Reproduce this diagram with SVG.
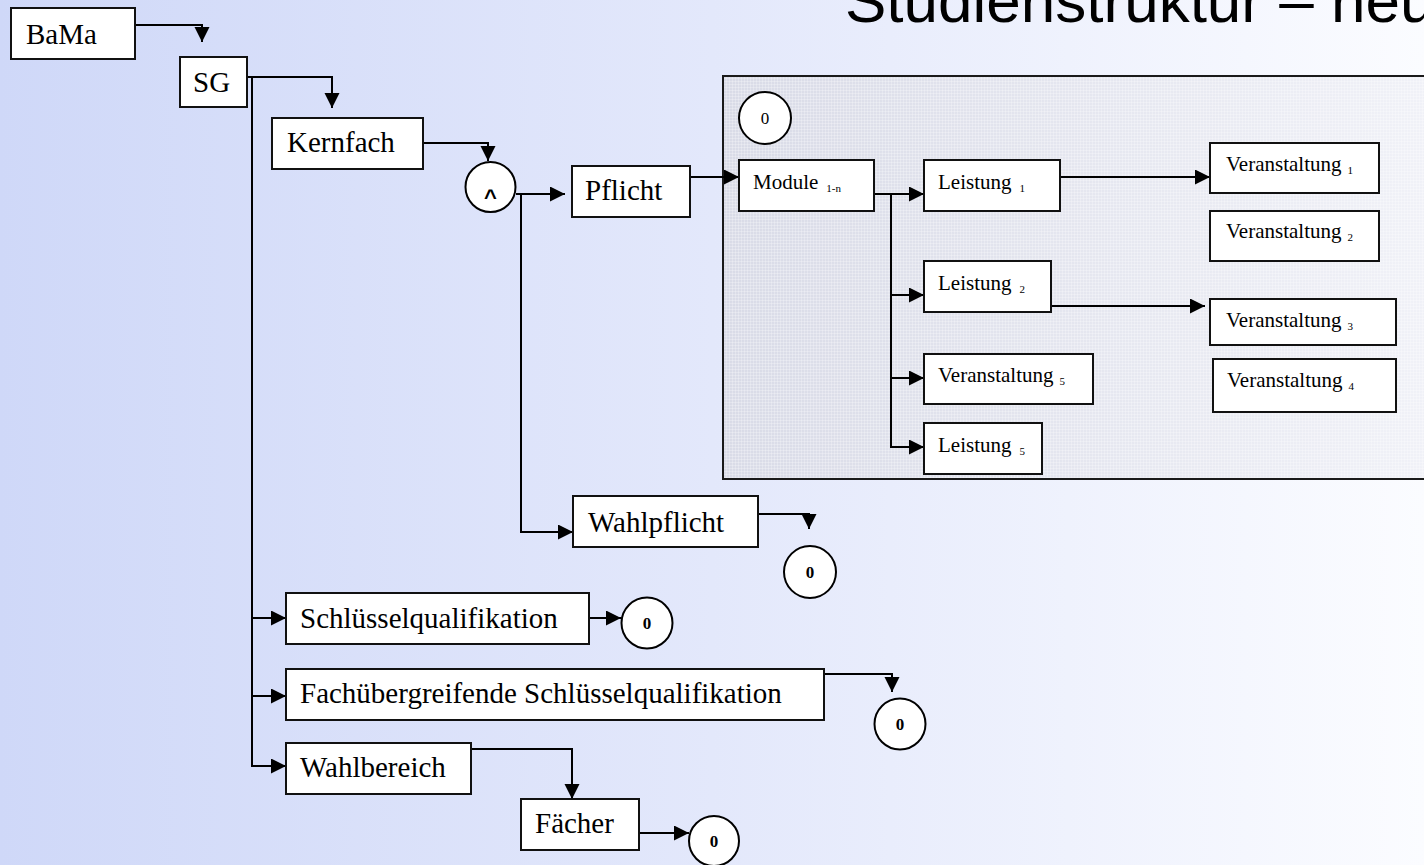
<svg xmlns="http://www.w3.org/2000/svg" width="1424" height="865" viewBox="0 0 1424 865">
<defs>
<linearGradient id="bg" x1="0" y1="0" x2="1" y2="0">
<stop offset="0" stop-color="#cfd8f8"/>
<stop offset="0.5" stop-color="#e3e8fb"/>
<stop offset="1" stop-color="#fbfcff"/>
</linearGradient>
<linearGradient id="panelg" x1="0" y1="0" x2="1" y2="0">
<stop offset="0" stop-color="#d9dbe7"/>
<stop offset="1" stop-color="#f1f2f8"/>
</linearGradient>
<pattern id="grid" width="3" height="3" patternUnits="userSpaceOnUse">
<rect x="0" y="0" width="3" height="1" fill="#ffffff" fill-opacity="0.25"/>
<rect x="0" y="0" width="1" height="3" fill="#ffffff" fill-opacity="0.25"/>
</pattern>
<marker id="ah" markerUnits="userSpaceOnUse" markerWidth="16" markerHeight="16" refX="15" refY="7.5" orient="auto">
<path d="M0,0 L15,7.5 L0,15 Z" fill="#000"/>
</marker>
</defs>
<style>
.box{fill:#fff;stroke:#111;stroke-width:2}
.circ{fill:#fff;stroke:#000;stroke-width:2}
.conn{fill:none;stroke:#000;stroke-width:2;marker-end:url(#ah)}
.line{fill:none;stroke:#000;stroke-width:2}
.big{font-family:"Liberation Serif","Times New Roman",serif;font-size:29px;fill:#000}
.small{font-family:"Liberation Serif","Times New Roman",serif;font-size:21px;fill:#000}
.sub{font-size:11px}
.zero{font-family:"Liberation Serif","Times New Roman",serif;font-size:17px;font-weight:bold;text-anchor:middle;fill:#000}
.title{font-family:"Liberation Sans",Arial,sans-serif;font-size:62px;fill:#000}
</style>
<rect x="0" y="0" width="1424" height="865" fill="url(#bg)"/>
<text class="title" x="845" y="22">Studienstruktur – neu</text>

<g id="panel">
<rect x="723" y="76" width="720" height="403" fill="url(#panelg)"/>
<rect x="723" y="76" width="720" height="403" fill="url(#grid)"/>
<rect x="723" y="76" width="720" height="403" fill="none" stroke="#1a1a1a" stroke-width="2"/>
</g>

<g id="connectors">
<polyline class="conn" points="135,25 202,25 202,42"/>
<polyline class="conn" points="247,77 332,77 332,108"/>
<polyline class="conn" points="252,77 252,766 286,766"/>
<polyline class="conn" points="252,618 286,618"/>
<polyline class="conn" points="252,696 286,696"/>
<polyline class="conn" points="423,143 488,143 488,161"/>
<polyline class="conn" points="516,194 565,194"/>
<polyline class="conn" points="521,194 521,532 573,532"/>
<polyline class="conn" points="690,177 739,177"/>
<polyline class="conn" points="874,194 924,194"/>
<polyline class="conn" points="891,194 891,295 924,295"/>
<polyline class="conn" points="891,295 891,378 924,378"/>
<polyline class="conn" points="891,378 891,447 924,447"/>
<polyline class="conn" points="1060,177 1210,177"/>
<polyline class="conn" points="1051,306 1205,306"/>
<polyline class="conn" points="758,514 809,514 809,529"/>
<polyline class="conn" points="589,618 621,618"/>
<polyline class="conn" points="824,674 892,674 892,692"/>
<polyline class="conn" points="471,749 572,749 572,799"/>
<polyline class="conn" points="639,833 689,833"/>
</g>

<g id="n-bama"><rect class="box" x="11" y="8" width="124" height="51"/><text class="big" x="26" y="44">BaMa</text></g>
<g id="n-sg"><rect class="box" x="180" y="57" width="67" height="50"/><text class="big" x="193" y="92">SG</text></g>
<g id="n-kernfach"><rect class="box" x="272" y="118" width="151" height="51"/><text class="big" x="287" y="152">Kernfach</text></g>
<g id="n-and"><circle class="circ" cx="490.5" cy="187" r="25"/><text x="490.5" y="205" font-family="Liberation Sans, Arial, sans-serif" font-size="22" font-weight="bold" text-anchor="middle">^</text></g>
<g id="n-pflicht"><rect class="box" x="572" y="166" width="118" height="51"/><text class="big" x="585" y="200">Pflicht</text></g>
<g id="n-wahlpflicht"><rect class="box" x="573" y="496" width="185" height="51"/><text class="big" x="588" y="532">Wahlpflicht</text></g>
<g id="n-wp0"><circle class="circ" cx="810" cy="572" r="26"/><text class="zero" x="810" y="578">0</text></g>
<g id="n-schluessel"><rect class="box" x="286" y="593" width="303" height="51"/><text class="big" x="300" y="628">Schlüsselqualifikation</text></g>
<g id="n-sq0"><circle class="circ" cx="647" cy="623" r="25.5"/><text class="zero" x="647" y="629">0</text></g>
<g id="n-fach"><rect class="box" x="286" y="669" width="538" height="51"/><text class="big" x="300" y="703">Fachübergreifende Schlüsselqualifikation</text></g>
<g id="n-fsq0"><circle class="circ" cx="900" cy="724" r="25.5"/><text class="zero" x="900" y="730">0</text></g>
<g id="n-wahlbereich"><rect class="box" x="286" y="743" width="185" height="51"/><text class="big" x="300" y="777">Wahlbereich</text></g>
<g id="n-faecher"><rect class="box" x="521" y="799" width="118" height="51"/><text class="big" x="535" y="833">Fächer</text></g>
<g id="n-f0"><circle class="circ" cx="714" cy="841" r="25"/><text class="zero" x="714" y="847">0</text></g>

<g id="n-panel0"><circle class="circ" cx="765" cy="118" r="26"/><text x="765" y="124" font-family="Liberation Serif, Times New Roman, serif" font-size="17" text-anchor="middle">0</text></g>
<g id="n-module"><rect class="box" x="739" y="160" width="135" height="51"/><text class="small" x="753" y="189">Module<tspan class="sub" dx="8" dy="3">1-n</tspan></text></g>
<g id="n-leistung1"><rect class="box" x="924" y="160" width="136" height="51"/><text class="small" x="938" y="189">Leistung<tspan class="sub" dx="8" dy="3">1</tspan></text></g>
<g id="n-leistung2"><rect class="box" x="924" y="261" width="127" height="51"/><text class="small" x="938" y="290">Leistung<tspan class="sub" dx="8" dy="3">2</tspan></text></g>
<g id="n-v5"><rect class="box" x="924" y="354" width="169" height="50"/><text class="small" x="938" y="382">Veranstaltung<tspan class="sub" dx="6" dy="3">5</tspan></text></g>
<g id="n-leistung5"><rect class="box" x="924" y="423" width="118" height="51"/><text class="small" x="938" y="452">Leistung<tspan class="sub" dx="8" dy="3">5</tspan></text></g>
<g id="n-v1"><rect class="box" x="1210" y="143" width="169" height="50"/><text class="small" x="1226" y="171">Veranstaltung<tspan class="sub" dx="6" dy="3">1</tspan></text></g>
<g id="n-v2"><rect class="box" x="1210" y="211" width="169" height="50"/><text class="small" x="1226" y="238">Veranstaltung<tspan class="sub" dx="6" dy="3">2</tspan></text></g>
<g id="n-v3"><rect class="box" x="1210" y="299" width="186" height="46"/><text class="small" x="1226" y="327">Veranstaltung<tspan class="sub" dx="6" dy="3">3</tspan></text></g>
<g id="n-v4"><rect class="box" x="1213" y="359" width="183" height="53"/><text class="small" x="1227" y="387">Veranstaltung<tspan class="sub" dx="6" dy="3">4</tspan></text></g>
</svg>
